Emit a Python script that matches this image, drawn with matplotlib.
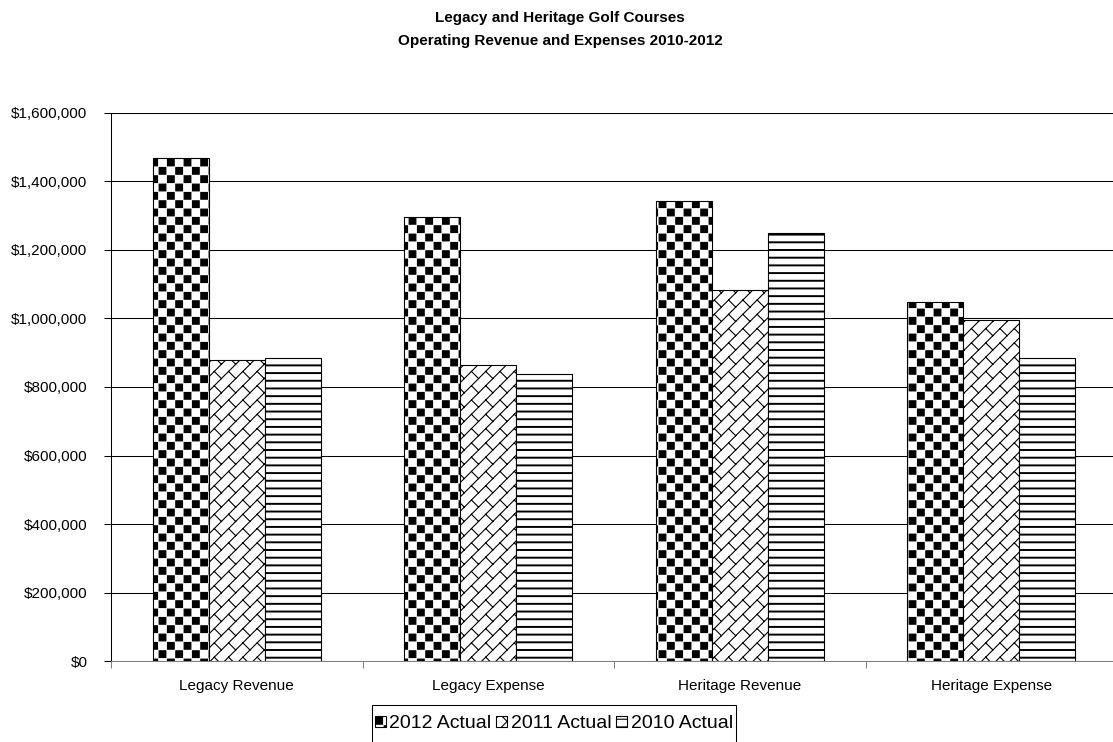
import warnings

import matplotlib
matplotlib.use("Agg")
import matplotlib.pyplot as plt
import matplotlib.hatch as mhatch
from matplotlib.path import Path
from matplotlib.patches import Rectangle
from matplotlib.ticker import FuncFormatter, FixedLocator

warnings.filterwarnings("ignore", message=".*hatch must consist.*")

# ---------------------------------------------------------------- data
categories = ["Legacy Revenue", "Legacy Expense", "Heritage Revenue", "Heritage Expense"]
series_names = ["2012 Actual", "2011 Actual", "2010 Actual"]
actual_2012 = [1470000, 1295000, 1343000, 1049000]
actual_2011 = [880000, 864000, 1083000, 997000]
actual_2010 = [886000, 839000, 1251000, 886000]
y_ticks = [0, 200000, 400000, 600000, 800000, 1000000, 1200000, 1400000, 1600000]
title_lines = ["Legacy and Heritage Golf Courses",
               "Operating Revenue and Expenses 2010-2012"]


# ---------------------------------------------------------------- custom fills
class CheckerHatch(mhatch.HatchPatternBase):
    """Filled checkerboard squares, selected by 'c' in a hatch string."""

    def __init__(self, hatch, density):
        self.cells = 12 if "c" in hatch else 0
        self.num_vertices = (self.cells * self.cells // 2) * 5

    def set_vertices_and_codes(self, vertices, codes):
        n = self.cells
        c = 1.0 / n
        inset = 0.008
        k = 0
        for i in range(n):
            for j in range(n):
                if (i + j) % 2:
                    continue
                x0, y0 = i * c + inset, j * c + inset
                x1, y1 = (i + 1) * c - inset, (j + 1) * c - inset
                vertices[k:k + 5] = [(x0, y0), (x1, y0), (x1, y1), (x0, y1), (x0, y0)]
                codes[k:k + 5] = [Path.MOVETO, Path.LINETO, Path.LINETO,
                                  Path.LINETO, Path.CLOSEPOLY]
                k += 5


class DiagonalBrickHatch(mhatch.HatchPatternBase):
    """Upward diagonal brick pattern, selected by 'b' in a hatch string."""

    def __init__(self, hatch, density):
        self.segments = []
        if "b" not in hatch:
            self.num_vertices = 0
            return
        n = 7
        s = 1.0 / n
        for k in range(-n, n + 1):
            d = k * s
            self.segments.append(((d, 0.0), (d + 1.0, 1.0)))
        for k in range(-n - 1, n + 1):
            for m in range(-1, n + 2):
                a = m * s
                p0 = (a + k * s, a)
                p1 = (a + k * s + s / 2, a - s / 2)
                if max(p0[0], p1[0]) < 0 or min(p0[0], p1[0]) > 1:
                    continue
                if max(p0[1], p1[1]) < 0 or min(p0[1], p1[1]) > 1:
                    continue
                self.segments.append((p0, p1))
        self.num_vertices = 2 * len(self.segments)

    def set_vertices_and_codes(self, vertices, codes):
        for i, (p0, p1) in enumerate(self.segments):
            vertices[2 * i] = p0
            vertices[2 * i + 1] = p1
            codes[2 * i] = Path.MOVETO
            codes[2 * i + 1] = Path.LINETO


class FineHorizontalHatch(mhatch.HatchPatternBase):
    """Closely spaced horizontal rules, selected by 'h' in a hatch string."""

    def __init__(self, hatch, density):
        self.num_lines = 13 if "h" in hatch else 0
        self.num_vertices = 2 * self.num_lines

    def set_vertices_and_codes(self, vertices, codes):
        step = 1.0 / self.num_lines
        for i in range(self.num_lines):
            y = (i + 0.5) * step
            vertices[2 * i] = (0.0, y)
            vertices[2 * i + 1] = (1.0, y)
            codes[2 * i] = Path.MOVETO
            codes[2 * i + 1] = Path.LINETO


mhatch._hatch_types.extend([CheckerHatch, DiagonalBrickHatch, FineHorizontalHatch])

# ---------------------------------------------------------------- figure
plt.rcParams["font.family"] = ["Liberation Sans", "DejaVu Sans"]
plt.rcParams["hatch.linewidth"] = 0.8
plt.rcParams["hatch.color"] = "black"

W, H = 1113, 742
fig = plt.figure(figsize=(W / 100, H / 100), dpi=100)
ax = fig.add_axes([111 / W, 81 / H, 1006 / W, 548 / H])

series = [actual_2012, actual_2011, actual_2010]
hatches = ["c", "b", "h"]
width = 2 / 9
offsets = [-width, 0.0, width]
x = list(range(len(categories)))

handles = []
for vals, hatch, off, name in zip(series, hatches, offsets, series_names):
    bars = ax.bar([xi + off for xi in x], vals, width=width, facecolor="white",
                  edgecolor="black", linewidth=0.8, hatch=hatch, label=name,
                  zorder=3)
    if hatch == "h":
        for b in bars:
            if hasattr(b, "set_hatch_linewidth"):
                b.set_hatch_linewidth(1.4)
    handles.append(bars)

ax.set_xlim(-0.5, len(categories) - 0.5)
ax.set_ylim(y_ticks[0], y_ticks[-1])

ax.yaxis.set_major_locator(FixedLocator(y_ticks))
ax.yaxis.set_major_formatter(FuncFormatter(lambda v, _: "${:,.0f}".format(v)))
ax.tick_params(axis="y", direction="out", length=5, width=0.75, color="black",
               labelsize=11, pad=12)

ax.set_xticks(x)
ax.set_xticklabels(categories)
ax.set_xticks([i - 0.5 for i in range(len(categories) + 1)], minor=True)
ax.tick_params(axis="x", which="major", length=0, labelsize=11, pad=13)
ax.tick_params(axis="x", which="minor", direction="out", length=5, width=0.75,
               color="#808080")

ax.yaxis.grid(True, color="black", linewidth=0.75)
ax.set_axisbelow(True)

for side in ("top", "right"):
    ax.spines[side].set_visible(False)
ax.spines["left"].set_color("black")
ax.spines["left"].set_linewidth(0.75)
ax.spines["bottom"].set_color("#808080")
ax.spines["bottom"].set_linewidth(0.75)

for line, ypix in zip(title_lines, (18, 41)):
    fig.text(560 / W, 1 - ypix / H, line, ha="center", va="center",
             fontsize=11, fontweight="bold")

leg = fig.legend(handles=handles, labels=series_names, loc="center",
                 bbox_to_anchor=(554 / W, 1 - 724 / H), ncol=3, frameon=False,
                 fontsize=14, handlelength=0.55, handleheight=0.55,
                 handletextpad=0.2, columnspacing=0.25, borderpad=0.12,
                 borderaxespad=0.0)

# legend frame: open at the bottom edge of the figure
fig.canvas.draw()
bb = leg.get_window_extent()
frame_top = (H - 705) / H
fig.patches.append(Rectangle((bb.x0 / W, -0.05), bb.width / W, frame_top + 0.05,
                             transform=fig.transFigure, fill=False,
                             edgecolor="black", linewidth=0.75, figure=fig))

fig.savefig("out.png", dpi=100)
